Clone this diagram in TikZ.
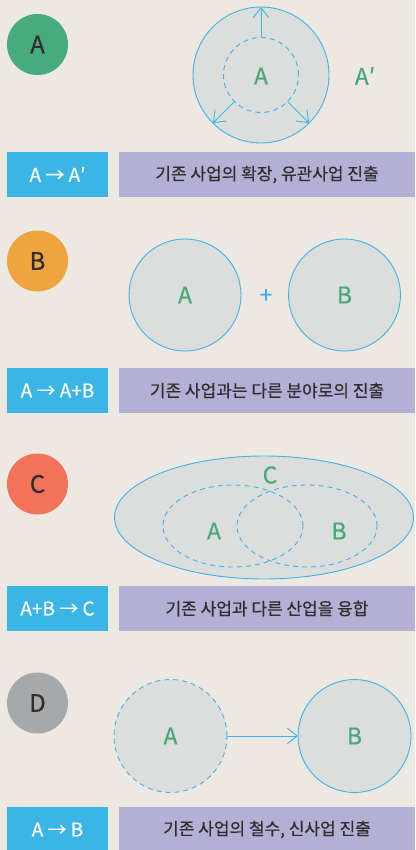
\documentclass[tikz,border=0pt]{standalone}
\usepackage{fontspec}
\setmainfont{Noto Sans CJK KR}[BoldFont=Noto Sans CJK KR, BoldFeatures={FakeBold=0.5}]
\usetikzlibrary{arrows.meta,positioning,shapes.geometric}
\definecolor{bgbeige}{HTML}{EDE9E2}
\definecolor{tagblue}{HTML}{3BB5E6}
\definecolor{descpurple}{HTML}{B4AFD5}
\definecolor{bizgray}{HTML}{DCDDDD}
\definecolor{lblgreen}{HTML}{47A878}
\definecolor{badgegreen}{HTML}{47AB7E}
\definecolor{badgeorange}{HTML}{EEA540}
\definecolor{badgered}{HTML}{F2725A}
\definecolor{badgegray}{HTML}{A7A8AA}
\definecolor{txtdark}{HTML}{2E2E2E}
\tikzset{
  badge/.style={circle, minimum size=61pt, inner sep=0pt, font=\fontsize{24}{24}\selectfont\bfseries, text=txtdark},
  tagbox/.style={fill=tagblue, text=white, minimum width=101pt, minimum height=45pt, inner sep=0pt, outer sep=0pt, font=\fontsize{19}{19}\selectfont\bfseries},
  descbox/.style={fill=descpurple, text=txtdark, minimum width=296pt, minimum height=45pt, inner sep=0pt, outer sep=0pt, font=\fontsize{17}{17}\selectfont\bfseries},
  biz/.style={circle, draw=tagblue, line width=0.9pt, fill=bizgray, inner sep=0pt, outer sep=0pt},
  bizdash/.style={draw=tagblue, line width=0.9pt, dash pattern=on 5pt off 4pt, inner sep=0pt, outer sep=0pt},
  lbl/.style={text=lblgreen, font=\fontsize{23}{23}\selectfont\bfseries, inner sep=0pt},
  linkarrow/.style={-{Straight Barb[length=3.5mm,width=5.5mm]}, draw=tagblue, line width=0.9pt}
}

\begin{document}
\begin{tikzpicture}[x=1pt, y=-1pt]
  \useasboundingbox (0,0) rectangle (415,850);
  \fill[bgbeige] (0,0) rectangle (415,850);

  % A : expansion
  \node[badge, fill=badgegreen] (badgeA) at (37.5,44.5) {A};
  \node[biz, minimum size=136pt] (outerA) at (261,75) {};
  \node[bizdash, circle, minimum size=75pt] (innerA) at (261,75) {};
  \node[lbl] (lblA) at (261,76) {A};
  \node[lbl] (lblAp) at (365,76) {A′};
  \draw[linkarrow] (innerA.90) -- (outerA.90);
  \draw[linkarrow] (innerA.-135) -- (outerA.-135);
  \draw[linkarrow] (innerA.-45) -- (outerA.-45);
  \node[tagbox, anchor=north west] (tagA) at (7,152) {A → A′};
  \node[descbox, right=11pt of tagA] (descA) {기존 사업의 확장, 유관사업 진출};

  % B : new field
  \node[badge, fill=badgeorange] (badgeB) at (37.5,261) {B};
  \node[biz, minimum size=112pt] (bizA) at (185,295) {};
  \node[biz, minimum size=112pt] (bizB) at (344.5,295) {};
  \node[lbl] at (bizA) {A};
  \node[lbl] at (bizB) {B};
  \node[text=tagblue, font=\fontsize{22}{22}\selectfont\bfseries] (plus) at (266,296) {+};
  \node[tagbox, anchor=north west] (tagB) at (7,368) {A → A+B};
  \node[descbox, right=11pt of tagB] (descB) {기존 사업과는 다른 분야로의 진출};

  % C : convergence
  \node[badge, fill=badgered] (badgeC) at (37.5,484) {C};
  \node[biz, ellipse, minimum width=299pt, minimum height=123pt] (bizC) at (264,517.5) {};
  \node[bizdash, ellipse, minimum width=140pt, minimum height=82pt] (ovalA) at (233,526) {};
  \node[bizdash, ellipse, minimum width=140pt, minimum height=82pt] (ovalB) at (307,526) {};
  \node[lbl] (lblC) at (270,475) {C};
  \node[lbl] at (214,531) {A};
  \node[lbl] at (339,531) {B};
  \node[tagbox, anchor=north west] (tagC) at (7,586) {A+B → C};
  \node[descbox, right=11pt of tagC] (descC) {기존 사업과 다른 산업을 융합};

  % D : withdrawal
  \node[badge, fill=badgegray] (badgeD) at (37.5,703) {D};
  \node[bizdash, circle, fill=bizgray, minimum size=113pt] (oldA) at (170.5,736) {};
  \node[biz, minimum size=113pt] (newB) at (354.5,736) {};
  \node[lbl] at (oldA) {A};
  \node[lbl] at (newB) {B};
  \draw[linkarrow] (oldA) -- (newB);
  \node[tagbox, anchor=north west] (tagD) at (7,807) {A → B};
  \node[descbox, right=11pt of tagD] (descD) {기존 사업의 철수, 신사업 진출};
\end{tikzpicture}
\end{document}
